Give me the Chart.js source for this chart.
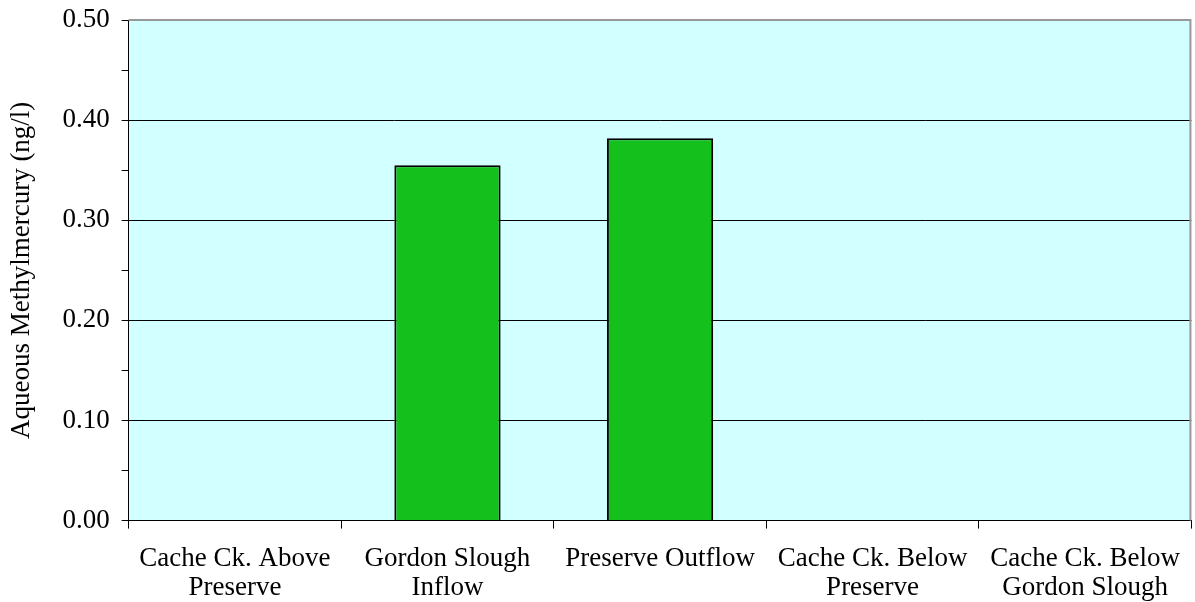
<!DOCTYPE html>
<html>
<head>
<meta charset="utf-8">
<script src="https://cdn.jsdelivr.net/npm/chart.js@4/dist/chart.umd.min.js"></script>
<style>
    html, body { margin: 0; padding: 0; background: #fff; }
    #wrap { width: 1195px; height: 602px; }
</style>
</head>
<body>
<div id="wrap"><canvas id="myChart"></canvas></div>
<script>
const categories = [
    ['Cache Ck. Above', 'Preserve'],
    ['Gordon Slough', 'Inflow'],
    ['Preserve Outflow'],
    ['Cache Ck. Below', 'Preserve'],
    ['Cache Ck. Below', 'Gordon Slough']
];
const methylmercury = [null, 0.355, 0.382, null, null];
const yTicks = [0, 0.1, 0.2, 0.3, 0.4, 0.5];

const isMajor = v => yTicks.some(t => Math.abs(t - v) < 1e-6);

// plot area fill and the grey frame on top / right
const plotBackground = {
    id: 'plotBackground',
    beforeDraw(chart) {
        const {ctx, chartArea: a} = chart;
        ctx.save();
        ctx.fillStyle = '#D2FFFF';
        ctx.fillRect(a.left, a.top, a.right - a.left, a.bottom - a.top);
        ctx.restore();
    },
    afterDraw(chart) {
        const {ctx, chartArea: a} = chart;
        ctx.save();
        ctx.strokeStyle = '#999999';
        ctx.lineWidth = 2;
        ctx.beginPath();
        ctx.moveTo(a.left, a.top);
        ctx.lineTo(a.right - 1, a.top);
        ctx.lineTo(a.right - 1, a.bottom);
        ctx.stroke();
        ctx.restore();
    }
};

new Chart(document.getElementById('myChart'), {
    type: 'bar',
    data: {
        labels  : categories,
        datasets: [
            {
                label          : 'Aqueous Methylmercury',
                data           : methylmercury,
                backgroundColor: '#14C01C',
                borderColor    : '#000000',
                borderWidth    : 2,
                barPercentage  : 0.5,
                categoryPercentage: 1.0
            }
        ]
    },
    options: {
        responsive         : true,
        maintainAspectRatio: false,
        animation          : false,
        layout : { padding: { top: 0, right: -4, left: 6, bottom: -16 } },
        plugins: {
            legend : { display: false },
            tooltip: { enabled: false }
        },
        scales: {
            x: {
                offset: true,
                grid  : {
                    offset         : true,
                    drawOnChartArea: false,
                    tickLength     : 8,
                    tickColor      : '#000000'
                },
                border: { color: '#000000', width: 1 },
                ticks : {
                    color      : '#000000',
                    maxRotation: 0,
                    autoSkip   : false,
                    padding    : 15,
                    font       : { family: 'Liberation Serif', size: 27, lineHeight: 1.1 }
                }
            },
            y: {
                min: 0,
                max: 0.5,
                grid: {
                    color     : c => (c.tick && isMajor(c.tick.value) && c.tick.value > 0 && c.tick.value < 0.5) ? '#000000' : 'rgba(0,0,0,0)',
                    tickColor : '#000000',
                    tickLength: 7,
                    lineWidth : 1
                },
                border: { color: '#000000', width: 1 },
                ticks : {
                    stepSize: 0.05,
                    color   : '#000000',
                    padding : 12,
                    font    : { family: 'Liberation Serif', size: 27, lineHeight: 0.6 },
                    callback: v => isMajor(v) ? v.toFixed(2) : ''
                },
                title: {
                    display: true,
                    text   : 'Aqueous Methylmercury (ng/l)',
                    color  : '#000000',
                    padding: { top: 0, bottom: 12 },
                    font   : { family: 'Liberation Serif', size: 27 }
                }
            }
        }
    },
    plugins: [plotBackground]
});
</script>
</body>
</html>
